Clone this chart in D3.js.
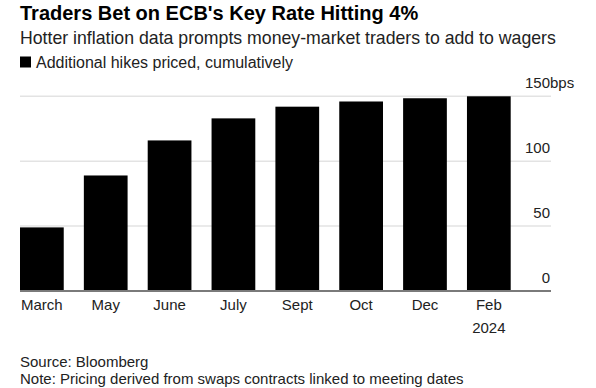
<!DOCTYPE html>
<html>
<head>
<meta charset="utf-8">
<script src="https://cdn.jsdelivr.net/npm/d3@7"></script>
<style>
	body { margin: 0; background: #fff; }
	svg { display: block; font-family: "Liberation Sans", Arial, sans-serif; }
</style>
</head>
<body>
<div id="chart"></div>
<script>
var categories = ['March', 'May', 'June', 'July', 'Sept', 'Oct', 'Dec', 'Feb'];
var subLabels = ['', '', '', '', '', '', '', '2024'];
var hikes = [49, 89, 116, 133, 142, 146, 148.5, 150];
var yTicks = [0, 50, 100, 150];

var width = 596,
	height = 388;

var svg = d3.select('#chart')
	.append('svg')
	.attr('width', width)
	.attr('height', height);

var data = categories.map(function(c, i) {
	return {cat: c, sub: subLabels[i], value: hikes[i]};
});

var x = d3.scaleBand()
	.domain(categories)
	.range([20, 510.7])
	.paddingInner(0.315)
	.paddingOuter(0);

var y = d3.scaleLinear()
	.domain([0, 150])
	.range([291, 96.3]);

// gridlines
svg.append('g')
	.selectAll('line')
	.data(yTicks.filter(function(d) {return d > 0}))
	.enter()
	.append('line')
	.attr('x1', 20)
	.attr('x2', 551)
	.attr('y1', function(d) {return y(d)})
	.attr('y2', function(d) {return y(d)})
	.attr('stroke', '#e3e3e3')
	.attr('stroke-width', 1.5);

// y tick labels, right side, sitting above the lines
var yAxis = d3.axisRight(y)
	.tickValues(yTicks)
	.tickSize(0)
	.tickPadding(0)
	.tickFormat(function(d) {return d});

var yg = svg.append('g')
	.attr('transform', 'translate(550,0)')
	.call(yAxis);
yg.select('.domain').remove();
yg.selectAll('text')
	.attr('text-anchor', 'end')
	.attr('dy', '-0.6em')
	.attr('x', 0)
	.style('font-family', '"Liberation Sans", Arial, sans-serif')
	.style('font-size', '15px')
	.attr('fill', '#222');
yg.selectAll('.tick')
	.filter(function(d) {return d === 150})
	.append('text')
	.attr('x', 0)
	.attr('dy', '-0.6em')
	.attr('text-anchor', 'start')
	.style('font-size', '15px')
	.attr('fill', '#222')
	.text('bps');

// bars
svg.append('g')
	.selectAll('rect')
	.data(data)
	.enter()
	.append('rect')
	.attr('x', function(d) {return x(d.cat)})
	.attr('y', function(d) {return y(d.value)})
	.attr('width', x.bandwidth())
	.attr('height', function(d) {return y(0) - y(d.value)})
	.attr('fill', '#000');

// baseline
svg.append('line')
	.attr('x1', 20)
	.attr('x2', 551)
	.attr('y1', y(0))
	.attr('y2', y(0))
	.attr('stroke', '#7a7a7a')
	.attr('stroke-width', 2);

// x labels
var xAxis = d3.axisBottom(x)
	.tickSize(0)
	.tickPadding(0);

var xg = svg.append('g')
	.attr('transform', 'translate(0,' + y(0) + ')')
	.call(xAxis);
xg.select('.domain').remove();
xg.selectAll('text')
	.attr('y', 19)
	.attr('dy', 0)
	.style('font-family', '"Liberation Sans", Arial, sans-serif')
	.style('font-size', '15px')
	.attr('fill', '#222');
xg.selectAll('.tick')
	.filter(function(d, i) {return subLabels[i] !== ''})
	.append('text')
	.attr('y', 42)
	.attr('text-anchor', 'middle')
	.style('font-size', '15px')
	.attr('fill', '#222')
	.text(function(d) {return subLabels[categories.indexOf(d)]});

// title block
svg.append('text')
	.attr('x', 20)
	.attr('y', 20)
	.style('font-size', '20px')
	.style('font-weight', 'bold')
	.attr('fill', '#000')
	.text("Traders Bet on ECB's Key Rate Hitting 4%");

svg.append('text')
	.attr('x', 20)
	.attr('y', 44)
	.style('font-size', '17.7px')
	.attr('fill', '#222')
	.text('Hotter inflation data prompts money-market traders to add to wagers');

svg.append('rect')
	.attr('x', 20)
	.attr('y', 56.5)
	.attr('width', 11)
	.attr('height', 11)
	.attr('fill', '#000');

svg.append('text')
	.attr('x', 36)
	.attr('y', 68)
	.style('font-size', '16px')
	.attr('fill', '#222')
	.text('Additional hikes priced, cumulatively');

// footer
svg.append('text')
	.attr('x', 20)
	.attr('y', 367)
	.style('font-size', '15px')
	.attr('fill', '#222')
	.text('Source: Bloomberg');

svg.append('text')
	.attr('x', 20)
	.attr('y', 384)
	.style('font-size', '15px')
	.attr('fill', '#222')
	.text('Note: Pricing derived from swaps contracts linked to meeting dates');
</script>
</body>
</html>
